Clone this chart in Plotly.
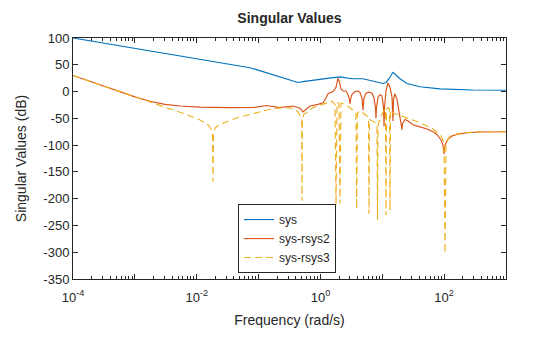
import numpy as np
import plotly.graph_objects as go

# ---- data (frequency as log10(rad/s), singular value in dB) ----
sys_logw = [-4.000, -2.998, -1.995, -1.413, -1.139, -1.009, -0.864, -0.686, -0.540, -0.443,
            -0.363, -0.282, -0.169, -0.007, 0.203, 0.316, 0.397, 0.510, 0.688, 0.850,
            1.011, 1.060, 1.108, 1.173, 1.222, 1.286, 1.399, 1.610, 1.933, 2.466, 3.000]
sys_db = [100, 81, 61.5, 50, 44.5, 40, 35, 29, 24, 20,
          17, 18.5, 20.5, 23, 26, 27.5, 26, 24, 24, 19,
          15, 17, 24, 36, 31, 24, 15, 9, 5, 3, 2.5]

rsys2_logw = [-4.000, -3.499, -2.998, -2.755, -2.513, -2.270, -1.947, -1.462, -1.058, -0.880,
              -0.654, -0.443, -0.330, -0.282, -0.233, -0.169, -0.039, 0.042, 0.090, 0.122,
              0.203, 0.252, 0.284, 0.308, 0.332, 0.365, 0.413, 0.446, 0.470, 0.478,
              0.486, 0.510, 0.559, 0.607, 0.640, 0.672, 0.688, 0.704, 0.737, 0.785,
              0.834, 0.866, 0.890, 0.898, 0.906, 0.931, 0.963, 0.995, 1.020, 1.028,
              1.036, 1.060, 1.092, 1.125, 1.157, 1.173, 1.181, 1.205, 1.238, 1.270,
              1.311, 1.319, 1.327, 1.367, 1.416, 1.496, 1.610, 1.723, 1.820, 1.884,
              1.949, 1.981, 1.998, 2.014, 2.062, 2.127, 2.208, 2.369, 2.580, 3.000]
rsys2_db = [30, 10, -10, -18, -24, -27, -29, -30, -29.5, -26,
            -30, -27, -31, -38, -33, -27, -24, -21, -12, -4,
            0, 8, 25, 18, 5, 1, 1, -6, -15, -23,
            -15, -5, 0, 1, -2, -12, -35, -12, -3, -1,
            -3, -12, -30, -50, -30, -10, -6, -8, -30, -65,
            -30, 2, 16, 8, -10, -55, -15, -4, -15, -35,
            -60, -71, -60, -52, -55, -62, -66, -70, -75, -80,
            -90, -100, -117, -100, -89, -83, -80, -77, -75.5, -75]

rsys3_logw = [-4.000, -3.499, -2.998, -2.755, -2.513, -2.189, -1.947, -1.818, -1.769, -1.745,
              -1.737, -1.729, -1.704, -1.624, -1.349, -1.025, -0.815, -0.605, -0.443, -0.363,
              -0.314, -0.303, -0.298, -0.292, -0.266, -0.217, -0.120, 0.042, 0.155, 0.187,
              0.236, 0.252, 0.268, 0.284, 0.300, 0.316, 0.332, 0.349, 0.413, 0.478,
              0.543, 0.575, 0.586, 0.598, 0.640, 0.688, 0.748, 0.777, 0.785, 0.793,
              0.834, 0.882, 0.914, 0.923, 0.931, 0.979, 1.028, 1.052, 1.060, 1.068,
              1.092, 1.117, 1.125, 1.133, 1.173, 1.286, 1.399, 1.610, 1.820, 1.884,
              1.949, 1.998, 2.014, 2.030, 2.095, 2.256, 2.531, 3.000]
rsys3_db = [30, 10, -10, -19, -29, -42, -53, -62, -70, -80,
            -168, -80, -68, -61, -49, -39.5, -33, -30, -31, -38,
            -48, -52, -204, -52, -42, -39, -30, -24, -19, -18,
            -24, -212, -24, -20, -24, -209, -22, -22, -25, -30,
            -36, -42, -219, -40, -36, -40, -45, -52, -228, -52,
            -55, -58, -64, -240, -62, -45, -36, -33, -231, -32,
            -30, -33, -222, -34, -40, -45, -49, -58, -70, -76,
            -83, -95, -302, -95, -83, -78, -75, -75]

names = ["sys", "sys-rsys2", "sys-rsys3"]
colors = ["#0072BD", "#D95319", "#EDB120"]

x_label_ticks = [1e-4, 1e-2, 1e0, 1e2]
x_label_text = ["10<sup>-4</sup>", "10<sup>-2</sup>", "10<sup>0</sup>", "10<sup>2</sup>"]
x_unlabeled_ticks = [1e-3, 1e-1, 1e1, 1e3]
y_tickvals = [100, 50, 0, -50, -100, -150, -200, -250, -300, -350]
y_ticktext = ["100", "50", "0", "-50", "-100", "-150", "-200", "-250", "-300", "-350"]

axis_color = "#262626"
font_family = "Liberation Sans, Arial, Helvetica, sans-serif"

fig = go.Figure()
series = [(sys_logw, sys_db, "solid"), (rsys2_logw, rsys2_db, "solid"), (rsys3_logw, rsys3_db, "7px,4px")]
for (lw, db, dash), name, col in zip(series, names, colors):
    fig.add_trace(go.Scatter(x=np.power(10.0, np.array(lw)), y=db, mode="lines", name=name,
                             line=dict(color=col, width=1.15, dash=dash)))

# invisible helper trace to activate the secondary (tick-only) x axis
fig.add_trace(go.Scatter(x=[x_unlabeled_ticks[0]], y=[None], xaxis="x2", showlegend=False,
                         hoverinfo="skip", mode="lines"))

minor_vals = [k * 10.0 ** d for d in range(-4, 3) for k in range(2, 10)]

fig.update_layout(
    width=560, height=337,
    margin=dict(l=73, r=54, t=38, b=56),
    paper_bgcolor="white", plot_bgcolor="white",
    font=dict(family=font_family, color=axis_color, size=13),
    title=dict(text="<b>Singular Values</b>", x=0.5, xref="paper", xanchor="center",
               y=1 - 18 / 337, yref="container", yanchor="middle",
               font=dict(size=14, color=axis_color)),
    showlegend=True,
    legend=dict(x=(238 - 73) / 433, y=(281 - 275) / 243, xanchor="left", yanchor="bottom",
                bgcolor="white", bordercolor=axis_color, borderwidth=1,
                font=dict(size=12, color=axis_color), tracegroupgap=0, itemwidth=30),
    xaxis=dict(
        type="log", range=[-4, 3], showgrid=False, zeroline=False,
        showline=True, linecolor=axis_color, linewidth=1, mirror="ticks",
        ticks="inside", ticklen=5, tickcolor=axis_color,
        tickmode="array", tickvals=x_label_ticks, ticktext=x_label_text,
        ticklabelstandoff=6,
        minor=dict(tickmode="array", tickvals=minor_vals, ticks="inside", ticklen=3,
                   tickcolor=axis_color, showgrid=False),
        title=dict(text="Frequency (rad/s)", font=dict(size=14), standoff=11),
    ),
    xaxis2=dict(type="log", range=[-4, 3], overlaying="x", anchor="y", side="bottom",
                showgrid=False, zeroline=False, showline=False, showticklabels=False,
                mirror="ticks", ticks="inside", ticklen=5, tickcolor=axis_color,
                tickmode="array", tickvals=x_unlabeled_ticks),
    yaxis=dict(
        range=[-350, 100], showgrid=False, zeroline=False,
        showline=True, linecolor=axis_color, linewidth=1, mirror="ticks",
        ticks="inside", ticklen=5, tickcolor=axis_color,
        tickmode="array", tickvals=y_tickvals, ticktext=y_ticktext,
        title=dict(text="Singular Values (dB)", font=dict(size=14), standoff=13),
    ),
)

fig.write_html("out.html")
